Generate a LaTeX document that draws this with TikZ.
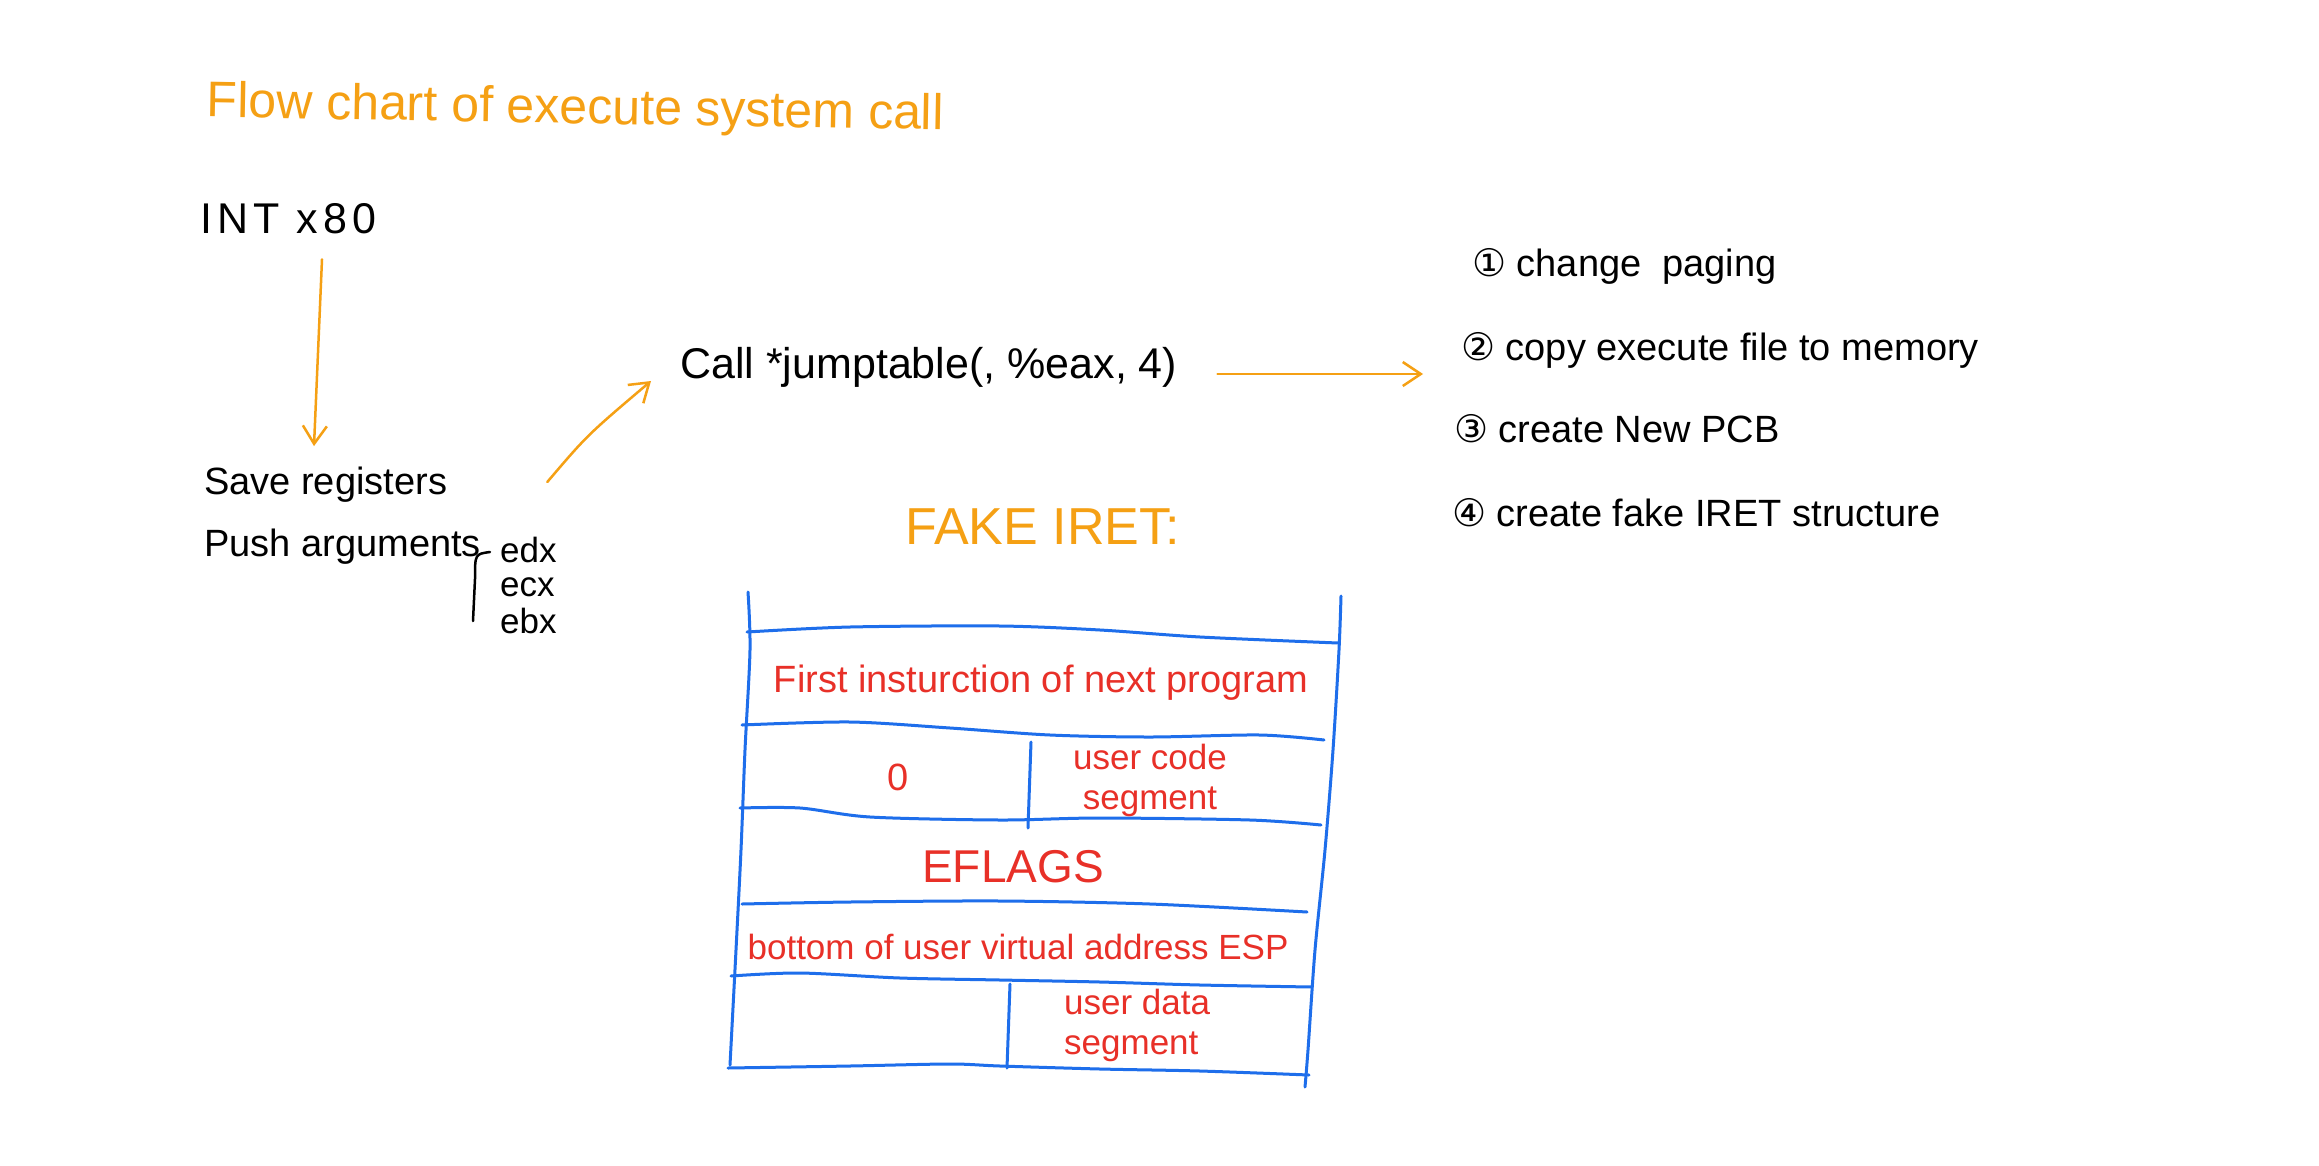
\documentclass[tikz,border=0pt]{standalone}
\usepackage{fontspec}
\setmainfont{Liberation Sans}
\newfontfamily\circfont{DejaVu Sans}
\newfontfamily\spacedfont[LetterSpace=12]{Liberation Sans}
\usetikzlibrary{arrows.meta}
\definecolor{orng}{RGB}{245,160,20}
\definecolor{penblue}{RGB}{30,110,235}
\definecolor{penred}{RGB}{232,48,40}
\begin{document}
\begin{tikzpicture}[x=1pt,y=-1pt,
  txt/.style={inner sep=0pt, anchor=west, font=\fontsize{38}{44}\selectfont},
  big/.style={txt, font=\fontsize{42}{50}\selectfont},
  redtxt/.style={inner sep=0pt, text=penred, font=\fontsize{35}{40}\selectfont},
  arr/.style={draw=orng, line width=2.5pt, line cap=round, -{Straight Barb[length=18pt,width=24pt,line width=2.5pt]}},
  tab/.style={draw=penblue, line width=3pt, line cap=round}]
\path[fill=white, use as bounding box] (0,0) rectangle (2319,1165);

% title
\node[big, text=orng, font=\fontsize{50}{56}\selectfont, rotate=-1] (title) at (207,104) {Flow chart of execute system call};

% left column
\node[big, font=\spacedfont\fontsize{43}{50}\selectfont] (int) at (200,219) {INT x80};
\node[txt] (save) at (204,485) {Save registers};
\node[txt] (push) at (204,547) {Push arguments};
\node[txt, font=\fontsize{35}{40}\selectfont] (edx) at (500,550) {edx};
\node[txt, font=\fontsize{35}{40}\selectfont] (ecx) at (500,587) {ecx};
\node[txt, font=\fontsize{35}{40}\selectfont] (ebx) at (500,621) {ebx};
\draw[line width=2.5pt, line cap=round] ([xshift=-10pt,yshift=-2pt]edx.west) .. controls ([xshift=-25pt,yshift=-4pt]edx.west) .. ([xshift=-25pt,yshift=8pt]ecx.west) -- ([xshift=-27pt]ebx.west);

% call
\node[big, font=\fontsize{43}{50}\selectfont] (call) at (680,367) {Call *jumptable(, \%eax, 4)};

% list
\node[txt] (i1) at (1472,266) {{\circfont ①} change \ paging};
\node[txt] (i2) at (1461,350) {{\circfont ②} copy execute file to memory};
\node[txt] (i3) at (1454,429) {{\circfont ③} create New PCB};
\node[txt] (i4) at (1452,513) {{\circfont ④} create fake IRET structure};

% fake iret
\node[txt, text=orng, font=\fontsize{52}{58}\selectfont] (fake) at (905,527) {FAKE IRET:};

% connectors
\draw[arr] ([xshift=122pt,yshift=-25pt]int.south west) -- ([xshift=110pt,yshift=21pt]save.north west);
\draw[arr] ([xshift=100pt,yshift=3pt]save.east) .. controls ([xshift=140pt,yshift=50pt]save.east) .. ([xshift=-29pt,yshift=-14pt]call.west);
\draw[arr] ([xshift=40pt,yshift=-7pt]call.east) -- ([xshift=-38pt,yshift=-24pt]i2.west);

% table
\draw[tab] plot[smooth] coordinates {(748,592) (750,650) (745,750) (741,850) (736,950) (730,1065)};
\draw[tab] plot[smooth] coordinates {(1341,596) (1339,650) (1333,750) (1325,850) (1315,950) (1308,1050) (1305,1087)};
\draw[tab] plot[smooth] coordinates {(747,632) (850,627) (1000,626) (1100,630) (1200,637) (1338,643)};
\draw[tab] plot[smooth] coordinates {(742,725) (850,722) (950,728) (1050,735) (1150,737) (1260,735) (1324,740)};
\draw[tab] plot[smooth] coordinates {(740,808) (800,808) (870,817) (1000,820) (1100,818) (1250,820) (1321,825)};
\draw[tab] plot[smooth] coordinates {(742,904) (850,902) (1000,901) (1150,904) (1307,912)};
\draw[tab] plot[smooth] coordinates {(731,976) (800,973) (900,978) (1000,980) (1100,982) (1200,985) (1312,987)};
\draw[tab] plot[smooth] coordinates {(728,1068) (850,1066) (950,1064) (1000,1066) (1100,1069) (1200,1071) (1309,1075)};
\draw[tab] (1031,742) -- (1028,828);
\draw[tab] (1010,984) -- (1007,1068);

% table texts
\node[redtxt, font=\fontsize{38}{44}\selectfont] (first) at (1041,683) {First insturction of next program};
\node[redtxt, font=\fontsize{38}{44}\selectfont] (zero) at (898,777) {0};
\node[redtxt, align=center] (ucs) at (1150,780) {user code\\segment};
\node[redtxt, font=\fontsize{46}{50}\selectfont] (eflags) at (1013,867) {EFLAGS};
\node[redtxt] (bottom) at (1018,947) {bottom of user virtual address ESP};
\node[redtxt, align=left, anchor=west] (uds) at (1064,1025) {user data\\segment};
\end{tikzpicture}
\end{document}
